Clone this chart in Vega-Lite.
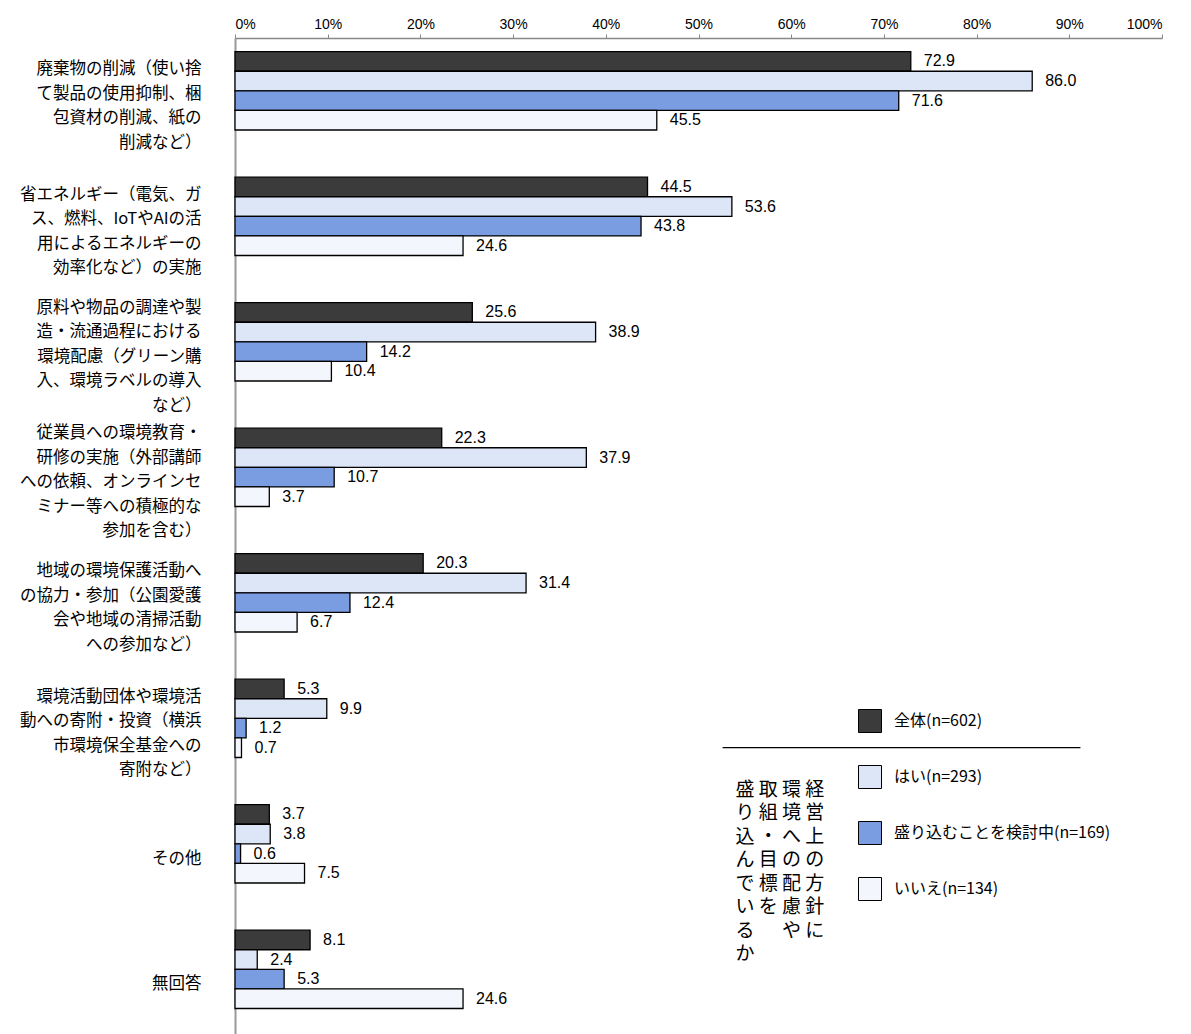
{
  "$schema": "https://vega.github.io/schema/vega-lite/v6.json",
  "autosize": {"type": "none"},
  "width": 927,
  "height": 996,
  "padding": {"left": 235, "top": 38, "right": 29, "bottom": 0},
  "background": "white",
  "config": {"view": {"stroke": null}, "font": "Noto Sans CJK JP"},
  "datasets": {
    "bars": [
      {"cat": "廃棄物の削減（使い捨\nて製品の使用抑制、梱\n包資材の削減、紙の\n削減など）", "series": "全体(n=602)", "value": 72.9},
      {"cat": "廃棄物の削減（使い捨\nて製品の使用抑制、梱\n包資材の削減、紙の\n削減など）", "series": "はい(n=293)", "value": 86.0},
      {"cat": "廃棄物の削減（使い捨\nて製品の使用抑制、梱\n包資材の削減、紙の\n削減など）", "series": "盛り込むことを検討中(n=169)", "value": 71.6},
      {"cat": "廃棄物の削減（使い捨\nて製品の使用抑制、梱\n包資材の削減、紙の\n削減など）", "series": "いいえ(n=134)", "value": 45.5},
      {"cat": "省エネルギー（電気、ガ\nス、燃料、IoTやAIの活\n用によるエネルギーの\n効率化など）の実施", "series": "全体(n=602)", "value": 44.5},
      {"cat": "省エネルギー（電気、ガ\nス、燃料、IoTやAIの活\n用によるエネルギーの\n効率化など）の実施", "series": "はい(n=293)", "value": 53.6},
      {"cat": "省エネルギー（電気、ガ\nス、燃料、IoTやAIの活\n用によるエネルギーの\n効率化など）の実施", "series": "盛り込むことを検討中(n=169)", "value": 43.8},
      {"cat": "省エネルギー（電気、ガ\nス、燃料、IoTやAIの活\n用によるエネルギーの\n効率化など）の実施", "series": "いいえ(n=134)", "value": 24.6},
      {"cat": "原料や物品の調達や製\n造・流通過程における\n環境配慮（グリーン購\n入、環境ラベルの導入\nなど）", "series": "全体(n=602)", "value": 25.6},
      {"cat": "原料や物品の調達や製\n造・流通過程における\n環境配慮（グリーン購\n入、環境ラベルの導入\nなど）", "series": "はい(n=293)", "value": 38.9},
      {"cat": "原料や物品の調達や製\n造・流通過程における\n環境配慮（グリーン購\n入、環境ラベルの導入\nなど）", "series": "盛り込むことを検討中(n=169)", "value": 14.2},
      {"cat": "原料や物品の調達や製\n造・流通過程における\n環境配慮（グリーン購\n入、環境ラベルの導入\nなど）", "series": "いいえ(n=134)", "value": 10.4},
      {"cat": "従業員への環境教育・\n研修の実施（外部講師\nへの依頼、オンラインセ\nミナー等への積極的な\n参加を含む）", "series": "全体(n=602)", "value": 22.3},
      {"cat": "従業員への環境教育・\n研修の実施（外部講師\nへの依頼、オンラインセ\nミナー等への積極的な\n参加を含む）", "series": "はい(n=293)", "value": 37.9},
      {"cat": "従業員への環境教育・\n研修の実施（外部講師\nへの依頼、オンラインセ\nミナー等への積極的な\n参加を含む）", "series": "盛り込むことを検討中(n=169)", "value": 10.7},
      {"cat": "従業員への環境教育・\n研修の実施（外部講師\nへの依頼、オンラインセ\nミナー等への積極的な\n参加を含む）", "series": "いいえ(n=134)", "value": 3.7},
      {"cat": "地域の環境保護活動へ\nの協力・参加（公園愛護\n会や地域の清掃活動\nへの参加など）", "series": "全体(n=602)", "value": 20.3},
      {"cat": "地域の環境保護活動へ\nの協力・参加（公園愛護\n会や地域の清掃活動\nへの参加など）", "series": "はい(n=293)", "value": 31.4},
      {"cat": "地域の環境保護活動へ\nの協力・参加（公園愛護\n会や地域の清掃活動\nへの参加など）", "series": "盛り込むことを検討中(n=169)", "value": 12.4},
      {"cat": "地域の環境保護活動へ\nの協力・参加（公園愛護\n会や地域の清掃活動\nへの参加など）", "series": "いいえ(n=134)", "value": 6.7},
      {"cat": "環境活動団体や環境活\n動への寄附・投資（横浜\n市環境保全基金への\n寄附など）", "series": "全体(n=602)", "value": 5.3},
      {"cat": "環境活動団体や環境活\n動への寄附・投資（横浜\n市環境保全基金への\n寄附など）", "series": "はい(n=293)", "value": 9.9},
      {"cat": "環境活動団体や環境活\n動への寄附・投資（横浜\n市環境保全基金への\n寄附など）", "series": "盛り込むことを検討中(n=169)", "value": 1.2},
      {"cat": "環境活動団体や環境活\n動への寄附・投資（横浜\n市環境保全基金への\n寄附など）", "series": "いいえ(n=134)", "value": 0.7},
      {"cat": "その他", "series": "全体(n=602)", "value": 3.7},
      {"cat": "その他", "series": "はい(n=293)", "value": 3.8},
      {"cat": "その他", "series": "盛り込むことを検討中(n=169)", "value": 0.6},
      {"cat": "その他", "series": "いいえ(n=134)", "value": 7.5},
      {"cat": "無回答", "series": "全体(n=602)", "value": 8.1},
      {"cat": "無回答", "series": "はい(n=293)", "value": 2.4},
      {"cat": "無回答", "series": "盛り込むことを検討中(n=169)", "value": 5.3},
      {"cat": "無回答", "series": "いいえ(n=134)", "value": 24.6}
    ],
    "sep": [
      {"cat": "環境活動団体や環境活\n動への寄附・投資（横浜\n市環境保全基金への\n寄附など）", "series": "いいえ(n=134)", "x": 52.6, "x2": 91.2}
    ],
    "note": [
      {"cat": "その他", "series": "全体(n=602)", "x": 54.0, "label": "盛 取 環 経\nり 組 境 営\n込 ・ へ 上\nん 目 の の\nで 標 配 方\nい を 慮 針\nる 　 や に\nか"}
    ]
  },
  "layer": [
    {
      "data": {"name": "bars"},
      "mark": {"type": "bar", "stroke": "black", "strokeWidth": 1.3},
      "encoding": {
        "y": {
          "field": "cat", "type": "nominal", "sort": null,
          "scale": {
            "domain": [
              "廃棄物の削減（使い捨\nて製品の使用抑制、梱\n包資材の削減、紙の\n削減など）",
              "省エネルギー（電気、ガ\nス、燃料、IoTやAIの活\n用によるエネルギーの\n効率化など）の実施",
              "原料や物品の調達や製\n造・流通過程における\n環境配慮（グリーン購\n入、環境ラベルの導入\nなど）",
              "従業員への環境教育・\n研修の実施（外部講師\nへの依頼、オンラインセ\nミナー等への積極的な\n参加を含む）",
              "地域の環境保護活動へ\nの協力・参加（公園愛護\n会や地域の清掃活動\nへの参加など）",
              "環境活動団体や環境活\n動への寄附・投資（横浜\n市環境保全基金への\n寄附など）",
              "その他",
              "無回答"
            ],
            "range": [0, 1004],
            "paddingInner": 0.376,
            "paddingOuter": 0.188,
            "align": 0.29,
            "round": false
          },
          "axis": {
            "title": null,
            "ticks": false,
            "domainColor": "#999999",
            "domainWidth": 2,
            "labelExpr": "split(datum.value, '\\n')",
            "labelFontSize": 16.5,
            "labelLineHeight": 24.5,
            "labelColor": "black",
            "labelPadding": 34,
            "labelLimit": 0,
            "labelOffset": {"expr": "15 - (length(split(datum.value, '\\n')) - 1) * 12.25"},
            "labelAlign": "right",
            "labelBaseline": "middle"
          }
        },
        "yOffset": {
          "field": "series", "type": "nominal", "sort": null,
          "scale": {"domain": ["全体(n=602)", "はい(n=293)", "盛り込むことを検討中(n=169)", "いいえ(n=134)"]}
        },
        "x": {
          "field": "value", "type": "quantitative",
          "scale": {"domain": [0, 100], "nice": false},
          "axis": {
            "orient": "top",
            "title": null,
            "values": [0, 10, 20, 30, 40, 50, 60, 70, 80, 90, 100],
            "labelExpr": "datum.value + '%'",
            "grid": false,
            "domainColor": "#888888",
            "domainWidth": 1.5,
            "tickColor": "#888888",
            "tickSize": 4,
            "labelFontSize": 14,
            "labelFont": "Liberation Sans",
            "labelColor": "black",
            "labelPadding": 3
          }
        },
        "fill": {
          "field": "series", "type": "nominal",
          "scale": {
            "domain": ["全体(n=602)", "はい(n=293)", "盛り込むことを検討中(n=169)", "いいえ(n=134)"],
            "range": ["#3b3b3b", "#dde6f7", "#7a9de2", "#f3f6fc"]
          },
          "legend": {
            "orient": "none",
            "legendX": 623,
            "legendY": 671,
            "padding": 0,
            "title": null,
            "symbolType": "square",
            "symbolSize": 529,
            "symbolStrokeColor": "black",
            "symbolStrokeWidth": 1,
            "symbolOpacity": 1,
            "labelFontSize": 16,
            "labelColor": "black",
            "labelOffset": 12,
            "labelLimit": 400,
            "rowPadding": 28
          }
        }
      }
    },
    {
      "data": {"name": "bars"},
      "mark": {"type": "text", "align": "left", "baseline": "middle", "dx": 13, "fontSize": 16, "font": "Liberation Sans", "color": "black"},
      "encoding": {
        "y": {"field": "cat", "type": "nominal", "sort": null},
        "yOffset": {"field": "series", "type": "nominal", "sort": null},
        "x": {"field": "value", "type": "quantitative"},
        "text": {"field": "value", "type": "quantitative", "format": ".1f"}
      }
    },
    {
      "data": {"name": "sep"},
      "mark": {"type": "rule", "color": "black", "strokeWidth": 1.3},
      "encoding": {
        "y": {"field": "cat", "type": "nominal", "sort": null},
        "yOffset": {"field": "series", "type": "nominal", "sort": null},
        "x": {"field": "x", "type": "quantitative"},
        "x2": {"field": "x2"}
      }
    },
    {
      "data": {"name": "note"},
      "mark": {"type": "text", "align": "left", "baseline": "middle", "dy": -24.5, "fontSize": 19, "lineHeight": 23.5, "lineBreak": "\n", "color": "black"},
      "encoding": {
        "y": {"field": "cat", "type": "nominal", "sort": null},
        "yOffset": {"field": "series", "type": "nominal", "sort": null},
        "x": {"field": "x", "type": "quantitative"},
        "text": {"field": "label"}
      }
    }
  ]
}
